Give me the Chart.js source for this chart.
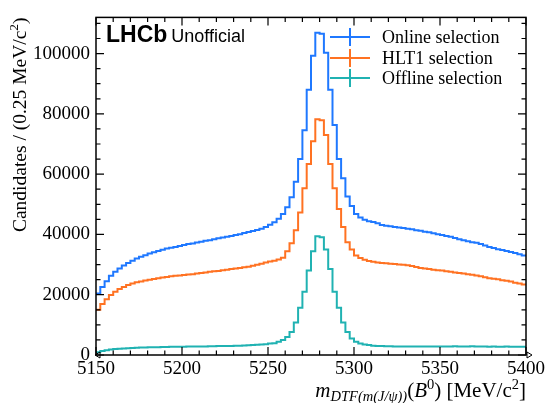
<!DOCTYPE html>
<html lang="en">
<head>
  <meta charset="UTF-8">
  <title>B0 mass - selections</title>
  <script src="https://cdn.jsdelivr.net/npm/chart.js"></script>
  <style>
    body { margin: 0; padding: 0; background: #fff; }
    #chartContainer { width: 548px; height: 403px; }
  </style>
</head>
<body>
  <div id="chartContainer"><canvas id="massChart"></canvas></div>
  <script>
    // histogram binning: 100 bins from 5150 to 5400
    const binLow = 5150;
    const binWidth = 2.5;

    const online = [
      20400, 22600, 24500, 26300, 27600, 28700, 29700, 30500, 31300, 32000,
      32600, 33100, 33700, 34100, 34500, 34900, 35300, 35600, 35800, 36200,
      36500, 36800, 37000, 37300, 37600, 37900, 38100, 38400, 38700, 39000,
      39200, 39500, 39800, 40100, 40500, 40800, 41100, 41500, 41900, 42500,
      43200, 44000, 45200, 46800, 49000, 52300, 57500, 65000, 74600, 88000,
      99300, 106900, 106600, 100300, 88000, 76300, 65000, 58600, 52600, 49400,
      46800, 45600, 44900, 44400, 44100, 43700, 43100, 42900, 42700, 42500,
      42300, 42100, 41900, 41700, 41400, 41200, 40900, 40700, 40400, 40100,
      39800, 39500, 39200, 38800, 38400, 38100, 37700, 37400, 37200, 36800,
      36300, 35800, 35500, 35100, 34800, 34500, 34200, 33800, 33400, 33000
    ];
    const hlt1 = [
      15000, 16900, 18500, 19900, 21000, 21900, 22600, 23200, 23700, 24100,
      24400, 24700, 25000, 25200, 25500, 25700, 25900, 26100, 26300, 26400,
      26500, 26700, 26800, 27000, 27200, 27400, 27600, 27800, 27900, 28100,
      28300, 28500, 28700, 28900, 29100, 29300, 29600, 29900, 30300, 30700,
      31000, 31300, 31700, 32300, 34400, 37100, 41400, 47300, 55300, 63400,
      70900, 78200, 77900, 73000, 63400, 55300, 48400, 42500, 37400, 35000,
      33000, 32200, 31600, 31200, 30900, 30700, 30500, 30400, 30300, 30200,
      30000, 29900, 29800, 29500, 29200, 28900, 28700, 28500, 28300, 28100,
      28000, 27800, 27600, 27400, 27200, 27000, 26800, 26600, 26400, 26100,
      25800, 25500, 25300, 25100, 24800, 24600, 24400, 24000, 23700, 23400
    ];
    const offline = [
      900, 1300, 1600, 1800, 1950, 2050, 2150, 2250, 2300, 2400,
      2450, 2500, 2550, 2550, 2600, 2650, 2650, 2700, 2700, 2750,
      2750, 2800, 2800, 2800, 2850, 2850, 2900, 2900, 2950, 2950,
      3000, 3000, 3050, 3100, 3150, 3200, 3300, 3400, 3500, 3600,
      3800, 3900, 4400, 4950, 6000, 7600, 10800, 15700, 21000, 28000,
      34400, 39400, 39100, 35000, 28500, 21000, 15700, 10800, 7600, 5500,
      4400, 3800, 3500, 3300, 3100, 3000, 2950, 2900, 2900, 2850,
      2850, 2850, 2800, 2800, 2850, 2800, 2800, 2800, 2850, 2800,
      2800, 2850, 2850, 2900, 2850, 2800, 2850, 2900, 2850, 2800,
      2800, 2750, 2800, 2750, 2750, 2800, 2750, 2750, 2750, 2750
    ];

    const seriesNames = ['Online selection', 'HLT1 selection', 'Offline selection'];
    const seriesColors = ['#1f78ff', '#ff7222', '#20b2b2'];
    const xTicks = [5150, 5200, 5250, 5300, 5350, 5400];
    const yTicks = [0, 20000, 40000, 60000, 80000, 100000];

    const SERIF = '"Liberation Serif", "Times New Roman", serif';
    const SANS = '"Liberation Sans", Arial, sans-serif';

    // bin contents -> step points at the bin edges
    function toSteps(counts) {
      const pts = counts.map((c, i) => ({ x: binLow + i * binWidth, y: c }));
      pts.push({ x: binLow + counts.length * binWidth, y: counts[counts.length - 1] });
      return pts;
    }

    // draw text made of pieces (sub/superscripts), right aligned at x
    function drawRich(ctx, parts, x, y) {
      let w = 0;
      parts.forEach(p => { ctx.font = p.f; w += ctx.measureText(p.t).width; });
      let cx = x - w;
      parts.forEach(p => {
        ctx.font = p.f;
        ctx.fillText(p.t, cx, y + (p.dy || 0));
        cx += ctx.measureText(p.t).width;
      });
    }

    const decorations = {
      id: 'decorations',
      afterDraw(chart) {
        const { ctx, chartArea: a, scales: { x, y } } = chart;
        ctx.save();
        ctx.strokeStyle = '#000';
        ctx.fillStyle = '#000';

        // frame
        ctx.lineWidth = 1.5;
        ctx.strokeRect(a.left, a.top, a.right - a.left, a.bottom - a.top);

        // inward ticks on all four sides
        ctx.lineWidth = 1.2;
        ctx.beginPath();
        for (let v = x.min; v <= x.max; v += 10) {
          const px = x.getPixelForValue(v);
          const len = (v - x.min) % 50 === 0 ? 8 : 4.5;
          ctx.moveTo(px, a.bottom); ctx.lineTo(px, a.bottom - len);
          ctx.moveTo(px, a.top); ctx.lineTo(px, a.top + len);
        }
        for (let v = 0; v <= y.max; v += 5000) {
          const py = y.getPixelForValue(v);
          const len = v % 20000 === 0 ? 8 : 4.5;
          ctx.moveTo(a.left, py); ctx.lineTo(a.left + len, py);
          ctx.moveTo(a.right, py); ctx.lineTo(a.right - len, py);
        }
        ctx.stroke();

        // small open arrow heads at the ends of the x axis
        ctx.lineWidth = 1;
        ctx.beginPath();
        ctx.moveTo(a.left - 1, a.bottom); ctx.lineTo(a.left + 4, a.bottom - 3); ctx.lineTo(a.left + 4, a.bottom + 3); ctx.closePath();
        ctx.moveTo(a.right + 6, a.bottom); ctx.lineTo(a.right + 1, a.bottom - 3); ctx.lineTo(a.right + 1, a.bottom + 3); ctx.closePath();
        ctx.stroke();

        // legend
        ctx.lineWidth = 2;
        const rows = [37, 58, 78];
        seriesNames.forEach((name, i) => {
          ctx.strokeStyle = seriesColors[i];
          ctx.beginPath();
          ctx.moveTo(330, rows[i]); ctx.lineTo(370, rows[i]);
          ctx.moveTo(350, rows[i] - 9); ctx.lineTo(350, rows[i] + 9);
          ctx.stroke();
          ctx.fillStyle = '#000';
          ctx.font = '18px ' + SERIF;
          ctx.textBaseline = 'middle';
          ctx.textAlign = 'left';
          ctx.fillText(name, 382, rows[i] + 1);
        });

        // LHCb label
        ctx.textBaseline = 'alphabetic';
        ctx.font = 'bold 23px ' + SANS;
        ctx.fillText('LHCb', 106, 42);
        const lw = ctx.measureText('LHCb').width;
        ctx.font = '18px ' + SANS;
        ctx.fillText('Unofficial', 106 + lw + 4, 42);

        // x axis title
        const big = '21px ' + SERIF, bigI = 'italic 21px ' + SERIF;
        const small = '14.5px ' + SERIF, smallI = 'italic 14.5px ' + SERIF;
        drawRich(ctx, [
          { t: 'm', f: bigI },
          { t: 'DTF(m(J/\u03C8))', f: smallI, dy: 4 },
          { t: '(', f: big },
          { t: 'B', f: bigI },
          { t: '0', f: small, dy: -8 },
          { t: ')', f: big },
          { t: ' [MeV/c', f: big },
          { t: '2', f: small, dy: -8 },
          { t: ']', f: big }
        ], a.right, 397);

        // y axis title
        const yBig = '19.5px ' + SERIF, ySmall = '13.5px ' + SERIF;
        ctx.translate(26, a.top);
        ctx.rotate(-Math.PI / 2);
        drawRich(ctx, [
          { t: 'Candidates / (0.25 MeV/c', f: yBig },
          { t: '2', f: ySmall, dy: -8 },
          { t: ')', f: yBig }
        ], 0, 0);
        ctx.restore();
      }
    };

    const datasets = [online, hlt1, offline].map((counts, i) => ({
      label: seriesNames[i],
      data: toSteps(counts),
      borderColor: seriesColors[i],
      borderWidth: 2,
      pointRadius: 0,
      fill: false,
      stepped: true
    }));

    const ctx = document.getElementById('massChart').getContext('2d');
    new Chart(ctx, {
      type: 'line',
      data: { datasets: datasets },
      options: {
        responsive: true,
        maintainAspectRatio: false,
        animation: false,
        layout: { padding: { left: 0, right: 21, top: 5, bottom: 0 } },
        scales: {
          x: {
            type: 'linear',
            min: 5150,
            max: 5400,
            afterFit: s => { s.height = 48; },
            afterBuildTicks: s => { s.ticks = xTicks.map(v => ({ value: v })); },
            grid: { display: false, drawTicks: false },
            border: { display: false },
            ticks: {
              font: { family: SERIF, size: 19 },
              color: '#000',
              padding: 3,
              maxRotation: 0,
              callback: v => String(v)
            }
          },
          y: {
            min: 0,
            max: 112000,
            afterFit: s => { s.width = 96; },
            afterBuildTicks: s => { s.ticks = yTicks.map(v => ({ value: v })); },
            grid: { display: false, drawTicks: false },
            border: { display: false },
            ticks: {
              font: { family: SERIF, size: 19 },
              color: '#000',
              padding: 6,
              callback: v => String(v)
            }
          }
        },
        plugins: {
          legend: { display: false },
          tooltip: { enabled: false }
        }
      },
      plugins: [decorations]
    });
  </script>
</body>
</html>
